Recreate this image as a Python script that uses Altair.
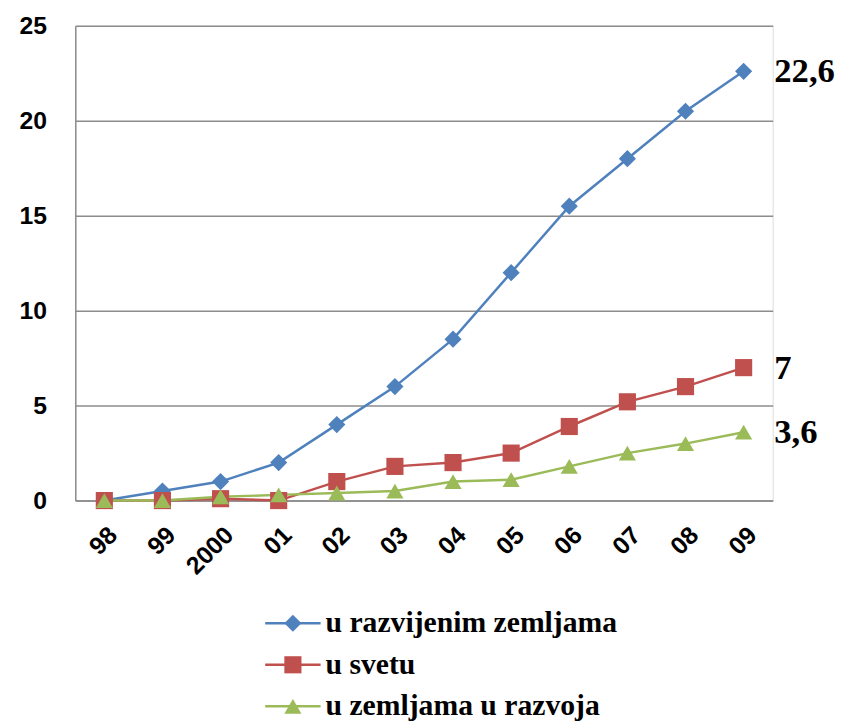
import altair as alt
import pandas as pd

years = ["98", "99", "2000", "01", "02", "03", "04", "05", "06", "07", "08", "09"]
series = ["u razvijenim zemljama", "u svetu", "u zemljama u razvoja"]
developed = [0, 0.5, 1, 2, 4, 6, 8.5, 12, 15.5, 18, 20.5, 22.6]
world = [0, 0, 0.1, 0, 1, 1.8, 2, 2.5, 3.9, 5.2, 6, 7]
developing = [0, 0, 0.2, 0.3, 0.4, 0.5, 1, 1.1, 1.8, 2.5, 3, 3.6]
end_labels = ["22,6", "7", "3,6"]
y_ticks = [0, 5, 10, 15, 20, 25]
colors = ["#4F81BD", "#C0504D", "#9BBB59"]
shapes = ["diamond", "square", "triangle-up"]

rows = []
for s, vals in zip(series, [developed, world, developing]):
    for yr, v in zip(years, vals):
        rows.append({"year": yr, "series": s, "value": v})
df = pd.DataFrame(rows)
ends = pd.DataFrame({
    "year": [years[-1]] * 3,
    "series": series,
    "value": [developed[-1], world[-1], developing[-1]],
    "label": end_labels,
})

color_scale = alt.Scale(domain=series, range=colors)
shape_scale = alt.Scale(domain=series, range=shapes)

x_enc = alt.X("year:O", sort=years, title=None,
              scale=alt.Scale(type="point", padding=0.5),
              axis=alt.Axis(labelAngle=-45, labelFont="Liberation Sans", labelFontWeight="bold",
                            labelFontSize=25, labelColor="#000000", ticks=False,
                            domain=True, domainColor="#8c8c8c", domainWidth=1.5,
                            labelPadding=22, grid=False))
y_enc = alt.Y("value:Q", title=None,
              scale=alt.Scale(domain=[0, 25], nice=False),
              axis=alt.Axis(values=y_ticks, ticks=False, grid=True, gridColor="#8c8c8c",
                            gridWidth=1.5, domain=True, domainColor="#8c8c8c", domainWidth=1.5,
                            labelFont="Liberation Sans", labelFontWeight="bold", labelFontSize=25,
                            labelColor="#000000", labelPadding=29))

base = alt.Chart(df).encode(x=x_enc, y=y_enc,
                            color=alt.Color("series:N", scale=color_scale, legend=None))
lines = base.mark_line(strokeWidth=2.5).encode(detail="series:N")
points = base.mark_point(filled=True, opacity=1, size=300).encode(
    shape=alt.Shape("series:N", scale=shape_scale, legend=None))
labels = alt.Chart(ends).mark_text(align="left", baseline="middle", dx=31,
                                   font="Liberation Serif", fontWeight="bold",
                                   fontSize=35, color="#000000").encode(
    x=alt.X("year:O", sort=years), y="value:Q", text="label:N")

main = alt.layer(lines, points, labels).properties(width=705, height=480)

leg_df = pd.DataFrame({"series": series})
leg_y = alt.Y("series:N", sort=series, axis=None, scale=alt.Scale(type="point", padding=0.5))
leg_color = alt.Color("series:N", scale=color_scale, legend=None)
leg_rule = alt.Chart(leg_df).mark_rule(strokeWidth=2.5).encode(
    y=leg_y, color=leg_color, x=alt.value(192), x2=alt.value(248))
leg_point = alt.Chart(leg_df).mark_point(filled=True, opacity=1, size=300).encode(
    y=leg_y, color=leg_color, x=alt.value(220),
    shape=alt.Shape("series:N", scale=shape_scale, legend=None))
leg_text = alt.Chart(leg_df).mark_text(align="left", baseline="middle", font="Liberation Serif",
                                       fontWeight="bold", fontSize=30, color="#000000").encode(
    y=leg_y, x=alt.value(253), text="series:N")
legend = alt.layer(leg_rule, leg_point, leg_text).properties(
    width=705, height=126, view=alt.ViewBackground(stroke=None))

chart = alt.vconcat(main, legend, spacing=23).properties(
    padding={"left": 10, "top": 1, "right": 0, "bottom": 0}
).configure_view(stroke=None).configure(background="#ffffff")

chart.save("out.html", embed_options={"renderer": "svg", "actions": False})
